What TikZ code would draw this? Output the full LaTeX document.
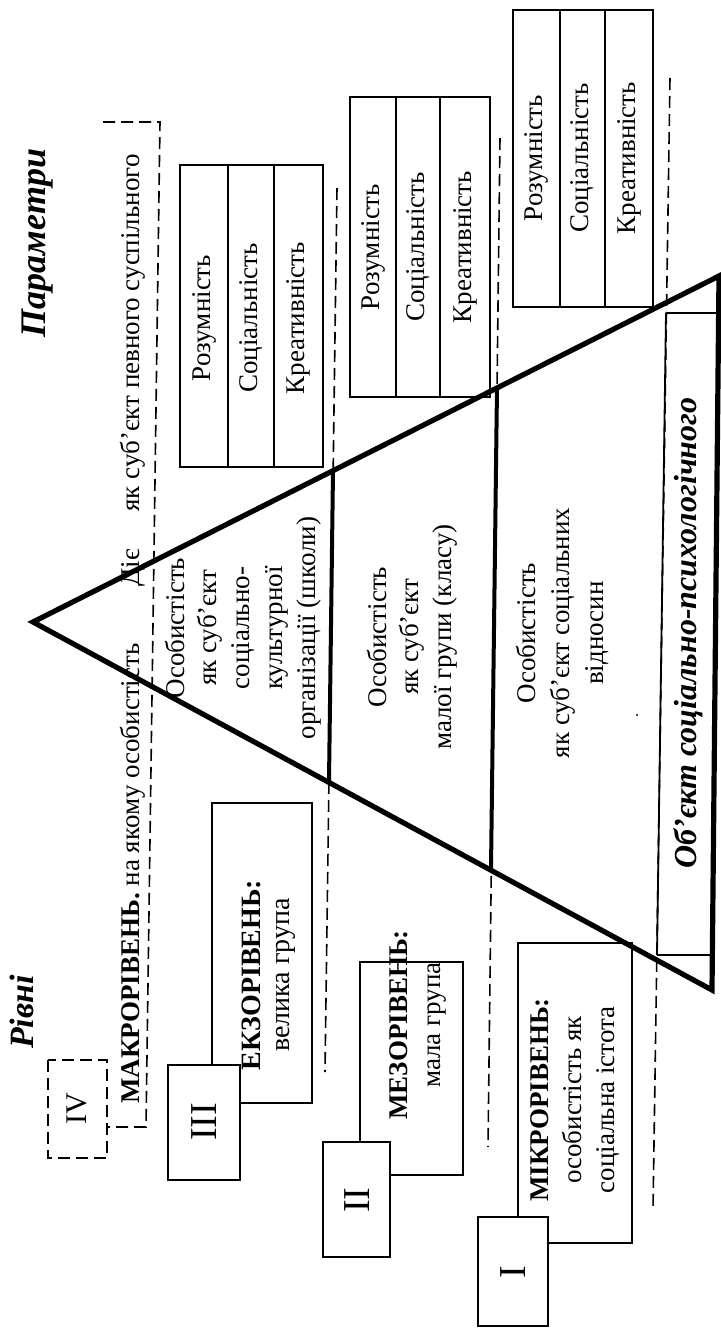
\documentclass[tikz,border=0pt]{standalone}
\usepackage{fontspec}
\setmainfont{Liberation Serif}
\begin{document}
\begin{tikzpicture}[x=0.5pt,y=-0.5pt,
  dashline/.style={line width=0.8pt, dash pattern=on 6pt off 3pt},
  thinbox/.style={line width=0.8pt, fill=white},
  thick3/.style={line width=2.6pt},
  divline/.style={line width=2pt},
  rot/.style={rotate=90, inner sep=0pt, align=center, font=\fontsize{13.5}{16.5}\selectfont},
  title/.style={rotate=90, inner sep=0pt, font=\fontsize{18}{20}\bfseries\itshape\selectfont},
  roman/.style={rotate=90, inner sep=0pt, font=\fontsize{19}{19}\selectfont}
]
\useasboundingbox (0,0) rectangle (721,1329);

% titles
\node[title] (tparam) at (38,243) {Параметри};
\node[title, font=\fontsize{17}{19}\bfseries\itshape\selectfont] (trivni) at (22,1012) {Рівні};

% macro-level dashed frame and IV box
\draw[dashline] (103,122) -- (160,122) -- (146,1127) -- (107,1127);
\draw[dashline] (48,1060) rectangle (107,1158);
\node[roman, font=\fontsize{15}{15}\selectfont] (r4) at (77,1109) {IV};

% macro text
\node[rot, anchor=west] (makro) at (133,1104) {\textbf{МАКРОРІВЕНЬ.} на якому особистість};
\node[rot] (die) at (133,568) {Діє};
\node[rot, anchor=west] (makro2) at (133,512) {як суб’єкт певного суспільного};

% dashed separators
\draw[dashline] (337,188) -- (325,1072);
\draw[dashline] (500,138) -- (488,1147);
\draw[dashline] (670,78) -- (653,1210);

% parameter boxes
\draw[thinbox] (180,165) rectangle (323,467);
\draw[line width=0.8pt] (228,165) -- (228,467) (274,165) -- (274,467);
\node[rot] (a1) at (204,318) {Розумність};
\node[rot] (a2) at (251,318) {Соціальність};
\node[rot] (a3) at (298,318) {Креативність};

\draw[thinbox] (350,97) rectangle (490,397);
\draw[line width=0.8pt] (396,97) -- (396,397) (440,97) -- (440,397);
\node[rot] (b1) at (373,247) {Розумність};
\node[rot] (b2) at (418,247) {Соціальність};
\node[rot] (b3) at (465,247) {Креативність};

\draw[thinbox] (513,10) rectangle (653,307);
\draw[line width=0.8pt] (560,10) -- (560,307) (605,10) -- (605,307);
\node[rot] (c1) at (536,158) {Розумність};
\node[rot] (c2) at (582,158) {Соціальність};
\node[rot] (c3) at (629,158) {Креативність};

% level boxes
\draw[thinbox] (212,803) rectangle (312,1103);
\draw[thinbox] (168,1065) rectangle (240,1180);
\node[roman] (r3) at (204,1122) {III};
\node[rot, font=\fontsize{14}{14.5}\selectfont] (ekzo) at (269,975) {\textbf{ЕКЗОРІВЕНЬ:}\\велика група};

\draw[thinbox] (360,962) rectangle (463,1175);
\draw[thinbox] (323,1142) rectangle (390,1257);
\node[roman] (r2) at (357,1200) {II};
\node[rot, font=\fontsize{13.5}{16.5}\selectfont] (mezo) at (418,1025) {\textbf{МЕЗОРІВЕНЬ:}\\мала група};

\draw[thinbox] (518,943) rectangle (632,1243);
\draw[thinbox] (478,1217) rectangle (548,1326);
\node[roman] (r1) at (513,1272) {I};
\node[rot, font=\fontsize{13.5}{16.5}\selectfont] (mikro) at (575,1100) {\textbf{МІКРОРІВЕНЬ:}\\особистість як\\соціальна істота};

% object box
\draw[line width=0.9pt] (666,313) -- (717,313) (657,955) -- (712,955);
\draw[line width=0.9pt] (666,313) -- (657,955);
\node[rot, font=\fontsize{16}{18}\bfseries\itshape\selectfont] (obj) at (688,633) {Об’єкт соціально-психологічного};

% triangle
\coordinate (apex) at (33,622);
\coordinate (tr) at (719,276);
\coordinate (br) at (712,990);
\draw[thick3] (apex) -- (tr) -- (br) -- cycle;
\draw[divline] (333,471) -- (329,781);
\draw[divline] (497,388) -- (491,869);

% inner texts
\node[rot, font=\fontsize{13.5}{16.4}\selectfont] (s1) at (243,628) {Особистість\\як суб’єкт\\соціально-\\культурної\\організації (школи)};
\node[rot, font=\fontsize{13.5}{16.3}\selectfont] (s2) at (412,637) {Особистість\\як суб’єкт\\малої групи (класу)};
\node[rot, font=\fontsize{13.5}{17}\selectfont] (s3) at (562,633) {Особистість\\як суб’єкт соціальних\\відносин};
\fill (637,715) circle (1.2);
\end{tikzpicture}
\end{document}
